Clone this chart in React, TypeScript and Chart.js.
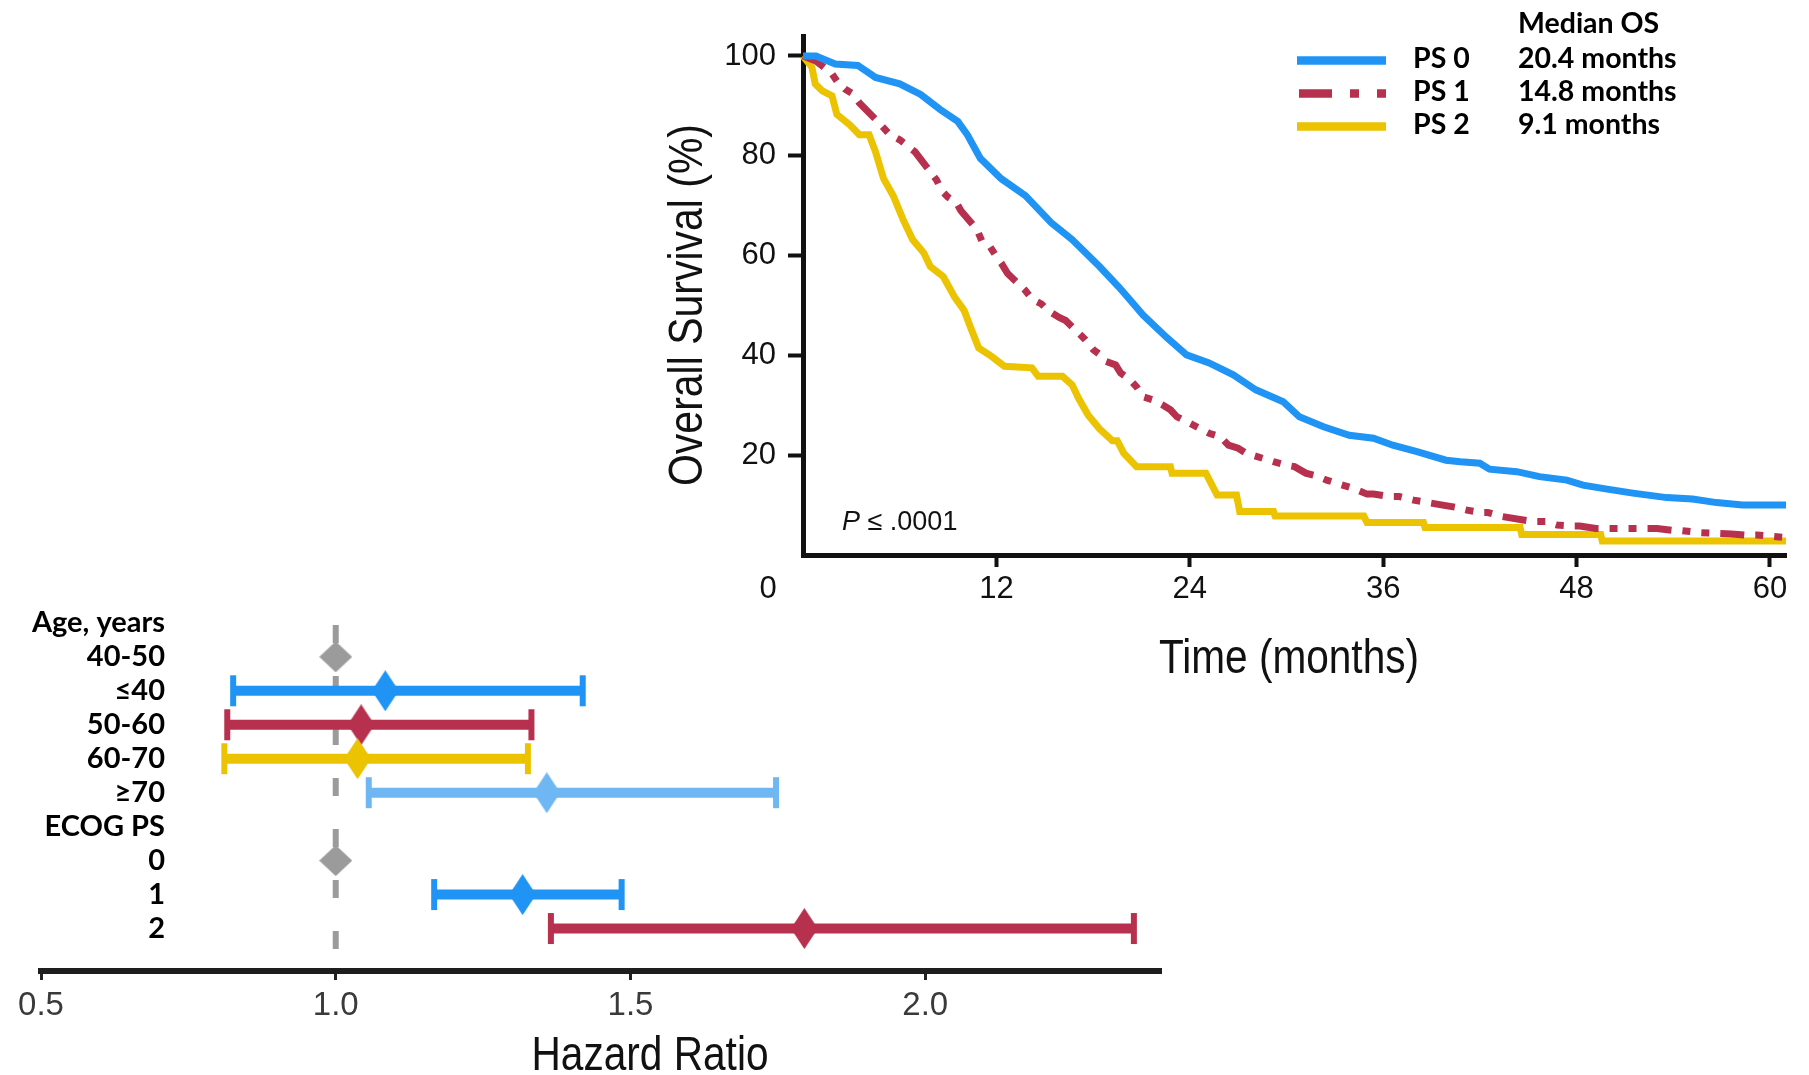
import React, { useEffect, useRef } from 'react';
import { Chart, registerables } from 'chart.js';

Chart.register(...registerables);

// ---------------- Kaplan–Meier data (month, % alive) ----------------
const psLabels = ['PS 0', 'PS 1', 'PS 2'];
const medianHeader = 'Median OS';
const medianOS = ['20.4 months', '14.8 months', '9.1 months'];

const ps0Curve: [number, number][] = [
  [0, 100], [0.8, 100], [2.0, 98.4], [3.4, 98.1], [4.5, 95.7], [6.0, 94.4], [7.3, 92.3],
  [8.5, 89.3], [9.6, 86.9], [10.2, 84.2], [11.0, 79.5], [12.3, 75.4], [13.8, 72], [15.4, 66.6],
  [16.7, 63.2], [18.4, 57.8], [19.6, 53.7], [20.3, 51.1], [21.1, 48.1], [22.6, 43.5], [23.8, 40.1],
  [25.2, 38.5], [26.7, 36.1], [28.1, 33.1], [29.8, 30.7], [30.8, 27.7], [32.3, 25.7], [33.9, 24],
  [35.4, 23.4], [36.6, 22], [38.1, 20.7], [39.9, 19], [40.8, 18.7], [42.0, 18.4], [42.6, 17.2],
  [44.3, 16.7], [45.7, 15.7], [47.4, 15], [48.4, 14], [49.9, 13.2], [51.5, 12.4], [53.6, 11.5],
  [55.2, 11.2], [56.7, 10.5], [58.3, 10], [61, 10],
];

const ps1Curve: [number, number][] = [
  [0, 100], [0.8, 99], [1.2, 98], [1.8, 96.4], [2.1, 95], [2.6, 93.4], [3.1, 92.4], [3.5, 90.6],
  [4.5, 87.3], [5.0, 85.6], [5.4, 84.2], [6.0, 83.2], [6.4, 82.2], [6.95, 80.8], [7.9, 76.8],
  [8.3, 75.1], [8.6, 73], [9.0, 71.7], [9.5, 70.7], [9.8, 69], [10.8, 65.2], [11.1, 62.9],
  [11.6, 61.8], [12.0, 59.8], [12.3, 58.5], [12.7, 56.4], [13.8, 53], [14.2, 51.3], [14.8, 50.3],
  [15.2, 49], [15.9, 47.6], [16.3, 47], [17.5, 43.2], [18.0, 41.2], [18.4, 40.2], [18.8, 38.8],
  [19.4, 38.1], [19.7, 36.5], [20.3, 35.1], [20.7, 33.7], [21.1, 31.7], [21.7, 31.1], [22.3, 30.1],
  [22.8, 29.1], [23.2, 27.7], [24.6, 25.4], [25.2, 24.4], [25.9, 23.7], [26.4, 22], [27.0, 21.4],
  [27.5, 20.4], [29.2, 18.7], [30.0, 18], [30.5, 17.7], [31.2, 16.4], [31.9, 15.8], [32.5, 15],
  [34.1, 13.4], [35.0, 12.2], [35.4, 12.2], [36.4, 11.7], [37.0, 11.7], [37.9, 11], [39.7, 10],
  [40.6, 9.5], [41.2, 9.0], [42.1, 8.5], [42.5, 8.5], [43.4, 7.7], [45.3, 6.7], [46.1, 6.7],
  [46.8, 6.0], [47.8, 5.8], [48.2, 5.8], [49.2, 5.3], [51.4, 5.3], [53, 5.3], [54.1, 4.9],
  [54.5, 4.9], [55.6, 4.5], [57.6, 4.2], [58.5, 4.0], [59.2, 4.0], [61, 3.5],
];

const ps2Curve: [number, number][] = [
  [0, 100], [0.55, 97.8], [0.76, 94.4], [1.2, 93], [1.8, 92], [2.1, 88.3], [2.9, 86.2], [3.5, 84.2],
  [4.1, 84.2], [4.5, 80.8], [5.0, 75.4], [5.6, 72], [6.2, 67.3], [6.8, 63.2], [7.5, 60.5], [7.9, 57.8],
  [8.7, 55.8], [9.4, 51.7], [10.0, 49], [10.4, 45.6], [10.9, 41.5], [11.7, 39.8], [12.5, 37.8],
  [14.2, 37.5], [14.6, 35.8], [16.1, 35.8], [16.7, 34.1], [17.1, 31.4], [17.7, 28], [18.4, 25.3],
  [19.2, 22.9], [19.5, 22.9], [19.9, 20.4], [20.7, 17.7], [22.8, 17.7], [22.9, 16.4], [25.0, 16.4],
  [25.3, 14.5], [25.7, 12], [26.9, 12], [27.1, 8.7], [29.2, 8.7], [29.3, 7.8], [34.8, 7.8],
  [35.0, 6.5], [38.5, 6.5], [38.6, 5.5], [44.5, 5.5], [44.6, 4.1], [49.5, 4.1], [49.6, 2.8], [61, 2.8],
];

const kmXTicks = [12, 24, 36, 48, 60];
const kmYTicks = [20, 40, 60, 80, 100];
const kmXOriginLabel = '0';
const kmXTitle = 'Time (months)';
const kmYTitle = 'Overall Survival (%)';
const pValueLetter = 'P';
const pValueRest = ' \u2264 .0001';

// ---------------- Forest plot data ----------------
const forestRows = ['Age, years', '40-50', '\u226440', '50-60', '60-70', '\u226570', 'ECOG PS', '0', '1', '2'];
const forestHR = [null, 1.0, 1.084, 1.043, 1.037, 1.358, null, 1.0, 1.317, 1.795];
const forestLo = [null, null, 0.826, 0.816, 0.811, 1.056, null, null, 1.167, 1.365];
const forestHi = [null, null, 1.419, 1.332, 1.326, 1.747, null, null, 1.485, 2.354];
const hrTicks = [0.5, 1.0, 1.5, 2.0];
const hrTickLabels = ['0.5', '1.0', '1.5', '2.0'];
const refLineHR = 1.0;
const refLineRows = [0.06, 9.68];
const forestXTitle = 'Hazard Ratio';

// ---------------- styles ----------------
const W = 1809;
const H = 1075;
const BLUE = '#1f94f5';
const RED = '#b7304d';
const YELLOW = '#ebc300';
const LIGHTBLUE = '#6fb7f2';
const GRAY = '#9b9b9b';
const kmColors = [BLUE, RED, YELLOW];
const rowColors = [null, GRAY, BLUE, RED, YELLOW, LIGHTBLUE, null, GRAY, BLUE, RED];
const SANS = "'Liberation Sans', Arial, sans-serif";
const BOLD = "Lato, 'Open Sans', sans-serif";
const RED_DASH = [24, 11, 8, 11, 8, 11];

function fittedText(ctx: any, text: string, x: number, y: number, size: number, width: number, rotate = false) {
  ctx.save();
  ctx.font = `${size}px ${SANS}`;
  const w = ctx.measureText(text).width;
  ctx.translate(x, y);
  if (rotate) ctx.rotate(-Math.PI / 2);
  ctx.scale(width / w, 1);
  ctx.textAlign = 'center';
  ctx.textBaseline = 'alphabetic';
  ctx.fillStyle = '#111';
  ctx.fillText(text, 0, 0);
  ctx.restore();
}

function diamond(color: string, w: number, h: number) {
  const c = document.createElement('canvas');
  c.width = w;
  c.height = h;
  const g = c.getContext('2d')!;
  g.fillStyle = color;
  g.beginPath();
  g.moveTo(w / 2, 0);
  g.lineTo(w, h / 2);
  g.lineTo(w / 2, h);
  g.lineTo(0, h / 2);
  g.closePath();
  g.fill();
  return c;
}

const kmDecor = {
  id: 'kmDecor',
  afterDraw(chart: any) {
    const ctx = chart.ctx;
    const xs = chart.scales.x;
    const area = chart.chartArea;
    ctx.save();
    ctx.font = `31px ${SANS}`;
    ctx.fillStyle = '#111';
    ctx.textAlign = 'center';
    ctx.textBaseline = 'middle';
    ctx.fillText(kmXOriginLabel, xs.getPixelForValue(0) - 35, area.bottom + 16 + 18.6);
    ctx.restore();

    fittedText(ctx, kmYTitle, area.left - 101, 305, 48, 362, true);
    fittedText(ctx, kmXTitle, 1289, area.bottom + 118, 48, 260);

    ctx.save();
    ctx.fillStyle = '#111';
    ctx.textBaseline = 'alphabetic';
    ctx.textAlign = 'left';
    ctx.font = `italic 27px ${SANS}`;
    const px = area.left + 39;
    const py = area.bottom - 25;
    ctx.fillText(pValueLetter, px, py);
    const pw = ctx.measureText(pValueLetter).width;
    ctx.font = `27px ${SANS}`;
    ctx.fillText(pValueRest, px + pw, py);
    ctx.restore();

    ctx.save();
    ctx.font = `bold 28.5px ${BOLD}`;
    ctx.fillStyle = '#000';
    ctx.textAlign = 'left';
    ctx.textBaseline = 'alphabetic';
    ctx.fillText(medianHeader, 1518, 33);
    chart.data.datasets.forEach((ds: any, i: number) => {
      const base = 68 + i * 33;
      const ly = base - 7.5;
      ctx.save();
      ctx.strokeStyle = ds.borderColor;
      ctx.lineWidth = 8.5;
      ctx.lineCap = 'butt';
      ctx.setLineDash(i === 1 ? [33, 18, 9, 18] : []);
      ctx.beginPath();
      ctx.moveTo(i === 1 ? 1299 : 1297, ly);
      ctx.lineTo(1386, ly);
      ctx.stroke();
      ctx.restore();
      ctx.fillText(ds.label, 1413, base);
      ctx.fillText(medianOS[i], 1518, base);
    });
    ctx.restore();
  },
};

const forestDecor = {
  id: 'forestDecor',
  afterDraw(chart: any) {
    fittedText(chart.ctx, forestXTitle, 650, 1070, 48, 237);
  },
};

function kmConfig(): any {
  const curves = [ps0Curve, ps1Curve, ps2Curve];
  return {
    type: 'scatter',
    data: {
      datasets: curves.map((c, i) => ({
        label: psLabels[i],
        data: c.map(([x, y]) => ({ x, y })),
        showLine: true,
        borderColor: kmColors[i],
        backgroundColor: kmColors[i],
        borderWidth: 7,
        borderDash: i === 1 ? RED_DASH : [],
        borderCapStyle: 'butt',
        borderJoinStyle: 'miter',
        pointRadius: 0,
        tension: 0,
        fill: false,
        order: i + 1,
        clip: false,
      })),
    },
    options: {
      animation: false,
      responsive: false,
      devicePixelRatio: 1,
      events: [],
      layout: { padding: { left: 0, right: 23, top: 36, bottom: 0 } },
      plugins: { legend: { display: false }, tooltip: { enabled: false }, title: { display: false } },
      scales: {
        x: {
          type: 'linear',
          min: 0,
          max: 61,
          afterBuildTicks: (s: any) => { s.ticks = kmXTicks.map((v) => ({ value: v })); },
          afterFit: (s: any) => { s.height = H - 555; },
          grid: { display: true, drawOnChartArea: false, drawTicks: true, tickLength: 12, tickWidth: 4, tickColor: '#111' },
          border: { display: true, color: '#111', width: 5 },
          ticks: { color: '#111', font: { family: SANS, size: 31 }, padding: 4, maxRotation: 0, autoSkip: false, callback: (v: any) => String(v) },
        },
        y: {
          type: 'linear',
          min: 0,
          max: 104,
          afterBuildTicks: (s: any) => { s.ticks = kmYTicks.map((v) => ({ value: v })); },
          afterFit: (s: any) => { s.width = 803; },
          grid: { display: true, drawOnChartArea: false, drawTicks: true, tickLength: 15, tickWidth: 4, tickColor: '#111' },
          border: { display: true, color: '#111', width: 5 },
          ticks: { color: '#111', font: { family: SANS, size: 31 }, padding: 12, autoSkip: false, callback: (v: any) => String(v) },
        },
      },
    },
    plugins: [kmDecor],
  };
}

function forestConfig(): any {
  const datasets: any[] = [];
  datasets.push({
    label: 'ref',
    data: refLineRows.map((r) => ({ x: refLineHR, y: r })),
    showLine: true,
    borderColor: GRAY,
    borderWidth: 6,
    borderDash: [18, 33],
    borderCapStyle: 'butt',
    pointRadius: 0,
    order: 10,
    clip: false,
  });
  forestRows.forEach((_, i) => {
    const lo = forestLo[i];
    const hi = forestHi[i];
    if (lo == null || hi == null) return;
    const col = rowColors[i] as string;
    datasets.push({
      label: 'ci' + i,
      data: [{ x: lo, y: i }, { x: hi, y: i }],
      showLine: true,
      borderColor: col,
      backgroundColor: col,
      borderWidth: 10,
      borderCapStyle: 'butt',
      pointStyle: 'line',
      pointRotation: 90,
      pointRadius: 15.5,
      pointBorderWidth: 6,
      pointBorderColor: col,
      pointBackgroundColor: col,
      order: 5,
      clip: false,
    });
  });
  const pts: any[] = [];
  const imgs: any[] = [];
  forestRows.forEach((_, i) => {
    const hr = forestHR[i];
    if (hr == null) return;
    pts.push({ x: hr, y: i });
    const isRef = forestLo[i] == null;
    imgs.push(isRef ? diamond(rowColors[i] as string, 33, 31) : diamond(rowColors[i] as string, 27, 41));
  });
  datasets.push({
    label: 'est',
    data: pts,
    showLine: false,
    pointStyle: imgs,
    pointRadius: 20,
    order: 1,
    clip: false,
  });

  return {
    type: 'scatter',
    data: { datasets },
    options: {
      animation: false,
      responsive: false,
      devicePixelRatio: 1,
      events: [],
      layout: { padding: { left: 41, right: W - 1161, top: 602.5, bottom: 0 } },
      plugins: { legend: { display: false }, tooltip: { enabled: false }, title: { display: false } },
      scales: {
        x: {
          type: 'linear',
          min: 0.5,
          max: 2.4,
          afterBuildTicks: (s: any) => { s.ticks = hrTicks.map((v) => ({ value: v })); },
          afterFit: (s: any) => { s.height = H - 971; },
          grid: { display: true, drawOnChartArea: false, drawTicks: true, tickLength: 9, tickWidth: 3, tickColor: '#222' },
          border: { display: true, color: '#1e1e1e', width: 6 },
          ticks: { color: '#3a3a3a', font: { family: SANS, size: 33 }, padding: 6, maxRotation: 0, autoSkip: false, callback: (_v: any, idx: number) => hrTickLabels[idx] },
        },
        y: {
          type: 'linear',
          reverse: true,
          min: -0.6,
          max: 10.25,
          position: { x: 0.7103 },
          afterBuildTicks: (s: any) => { s.ticks = forestRows.map((_, i) => ({ value: i })); },
          grid: { display: false },
          border: { display: false },
          ticks: { color: '#000', font: { family: BOLD, size: 29, weight: 'bold' }, padding: 0, autoSkip: false, callback: (_v: any, idx: number) => forestRows[idx] },
        },
      },
    },
    plugins: [forestDecor],
  };
}

export default function App() {
  const kmRef = useRef<HTMLCanvasElement>(null);
  const fpRef = useRef<HTMLCanvasElement>(null);

  useEffect(() => {
    const km = new Chart(kmRef.current as HTMLCanvasElement, kmConfig());
    const fp = new Chart(fpRef.current as HTMLCanvasElement, forestConfig());
    return () => {
      km.destroy();
      fp.destroy();
    };
  }, []);

  const cs: React.CSSProperties = { position: 'absolute', left: 0, top: 0, width: W, height: H };
  return (
    <div style={{ position: 'absolute', left: 0, top: 0, width: W, height: H, background: '#fff', overflow: 'hidden' }}>
      <canvas ref={kmRef} width={W} height={H} style={cs} />
      <canvas ref={fpRef} width={W} height={H} style={cs} />
    </div>
  );
}
